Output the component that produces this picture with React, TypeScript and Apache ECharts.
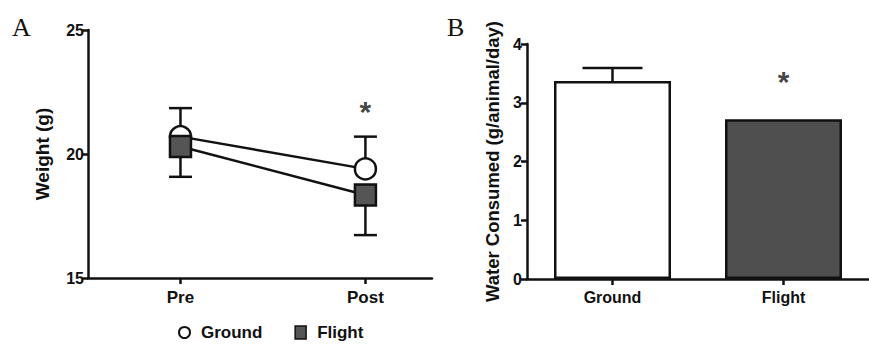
import React, { useEffect, useRef } from "react";
import * as echarts from "echarts";

const timepoints = ["Pre", "Post"];
const groundWeight = [20.7, 19.4];
const groundErr = [1.15, 1.3];
const flightWeight = [20.3, 18.35];
const flightErr = [1.22, 1.62];
const weightSigY = 21.7; // asterisk height at Post

const groups = ["Ground", "Flight"];
const waterMean = [3.37, 2.72];
const waterErr = [0.22, 0];
const waterSigY = 3.37; // asterisk height over Flight

const FONT = "'Liberation Sans', Arial, sans-serif";
const INK = "#111";

export default function App() {
  const ref = useRef<HTMLDivElement>(null);
  useEffect(() => {
    if (!ref.current) return;
    const chart = echarts.init(ref.current, null, { renderer: "svg" });

    const errRender = (dir: number, capHalf: number) => (params: any, api: any) => {
      const x = api.value(0);
      const m = api.value(1);
      const e = api.value(2);
      if (!e) return null;
      const p0 = api.coord([x, m]);
      const p1 = api.coord([x, m + dir * e]);
      return {
        type: "group",
        children: [
          { type: "line", shape: { x1: p0[0], y1: p0[1], x2: p1[0], y2: p1[1] }, style: { stroke: INK, lineWidth: 2.5 } },
          { type: "line", shape: { x1: p1[0] - capHalf, y1: p1[1], x2: p1[0] + capHalf, y2: p1[1] }, style: { stroke: INK, lineWidth: 2.5 } },
        ],
      };
    };

    const axisLineStyle = { lineStyle: { color: INK, width: 2.5 } };
    const tickStyle = { color: INK, width: 2.5 };

    chart.setOption({
      animation: false,
      backgroundColor: "#fff",
      textStyle: { fontFamily: FONT },
      grid: [
        { left: 88, top: 30, width: 344, height: 248 },
        { left: 527, top: 44, width: 352, height: 235 },
      ],
      graphic: [
        { type: "text", left: 12, top: 14, style: { text: "A", font: "26px 'Liberation Serif', 'DejaVu Serif', serif", fill: INK } },
        { type: "text", left: 447, top: 14, style: { text: "B", font: "26px 'Liberation Serif', 'DejaVu Serif', serif", fill: INK } },
      ],
      legend: {
        left: 178,
        top: 324,
        padding: 0,
        itemWidth: 11,
        itemHeight: 13,
        itemGap: 32,
        textStyle: { fontFamily: FONT, fontWeight: "bold", fontSize: 17, lineHeight: 17, color: INK, padding: [0, 0, 0, 6] },
        data: [
          { name: "Ground", icon: "circle", itemStyle: { color: "#fff", borderColor: INK, borderWidth: 2 } },
          { name: "Flight", icon: "rect", itemStyle: { color: "#555", borderColor: INK, borderWidth: 1.5 } },
        ],
      },
      xAxis: [
        {
          gridIndex: 0,
          type: "value",
          min: -0.5,
          max: 1.36,
          splitLine: { show: false },
          axisLine: { ...axisLineStyle, onZero: false },
          axisTick: { show: true, length: 6, lineStyle: tickStyle, customValues: [0, 1] },
          axisLabel: {
            customValues: [0, 1],
            formatter: (v: number) => timepoints[Math.round(v)] ?? "",
            fontFamily: FONT, fontWeight: "bold", fontSize: 17, color: INK, margin: 11,
          },
        },
        {
          gridIndex: 1,
          type: "category",
          data: groups,
          axisLine: axisLineStyle,
          axisTick: { show: true, length: 6, alignWithLabel: true, lineStyle: tickStyle },
          axisLabel: { fontFamily: FONT, fontWeight: "bold", fontSize: 16, color: INK, margin: 10 },
        },
      ],
      yAxis: [
        {
          gridIndex: 0,
          type: "value",
          min: 15,
          max: 25,
          interval: 5,
          name: "Weight (g)",
          nameLocation: "middle",
          nameGap: 36,
          nameTextStyle: { fontFamily: FONT, fontWeight: "bold", fontSize: 19, color: INK },
          splitLine: { show: false },
          axisLine: { show: true, onZero: false, ...axisLineStyle },
          axisTick: { show: true, length: 6, lineStyle: tickStyle },
          axisLabel: { fontFamily: FONT, fontWeight: "bold", fontSize: 16, color: INK, margin: 4 },
        },
        {
          gridIndex: 1,
          type: "value",
          min: 0,
          max: 4,
          interval: 1,
          name: "Water Consumed (g/animal/day)",
          nameLocation: "middle",
          nameGap: 25,
          nameTextStyle: { fontFamily: FONT, fontWeight: "bold", fontSize: 18.5, color: INK },
          splitLine: { show: false },
          axisLine: { show: true, onZero: false, ...axisLineStyle },
          axisTick: { show: true, length: 6, lineStyle: tickStyle },
          axisLabel: { fontFamily: FONT, fontWeight: "bold", fontSize: 16, color: INK, margin: 5 },
        },
      ],
      series: [
        {
          type: "custom",
          xAxisIndex: 0,
          yAxisIndex: 0,
          z: 1,
          renderItem: errRender(1, 11.5),
          data: timepoints.map((_, i) => [i, groundWeight[i], groundErr[i]]),
        },
        {
          type: "custom",
          xAxisIndex: 0,
          yAxisIndex: 0,
          z: 1,
          renderItem: errRender(-1, 11.5),
          data: timepoints.map((_, i) => [i, flightWeight[i], flightErr[i]]),
        },
        {
          name: "Ground",
          type: "line",
          xAxisIndex: 0,
          yAxisIndex: 0,
          z: 3,
          symbol: "circle",
          symbolSize: 21,
          lineStyle: { color: INK, width: 2.5 },
          itemStyle: { color: "#fff", borderColor: INK, borderWidth: 2.5 },
          data: timepoints.map((_, i) => [i, groundWeight[i]]),
        },
        {
          name: "Flight",
          type: "line",
          xAxisIndex: 0,
          yAxisIndex: 0,
          z: 4,
          symbol: "rect",
          symbolSize: 21,
          lineStyle: { color: INK, width: 2.5 },
          itemStyle: { color: "#555", borderColor: INK, borderWidth: 2.5 },
          data: timepoints.map((_, i) => [i, flightWeight[i]]),
        },
        {
          type: "scatter",
          xAxisIndex: 0,
          yAxisIndex: 0,
          symbolSize: 0,
          silent: true,
          label: { show: true, position: "inside", formatter: "*", fontFamily: FONT, fontWeight: "bold", fontSize: 30, color: INK },
          data: [[1, weightSigY]],
        },
        {
          type: "bar",
          xAxisIndex: 1,
          yAxisIndex: 1,
          barWidth: 117,
          z: 2,
          data: waterMean.map((v, i) => ({
            value: v,
            itemStyle: { color: i === 0 ? "#fff" : "#4f4f4f", borderColor: INK, borderWidth: 2.5 },
          })),
        },
        {
          type: "custom",
          xAxisIndex: 1,
          yAxisIndex: 1,
          z: 1,
          renderItem: errRender(1, 30),
          data: groups.map((_, i) => [i, waterMean[i], waterErr[i]]),
        },
        {
          type: "scatter",
          xAxisIndex: 1,
          yAxisIndex: 1,
          symbolSize: 0,
          silent: true,
          label: { show: true, position: "inside", formatter: "*", fontFamily: FONT, fontWeight: "bold", fontSize: 30, color: INK },
          data: [[1, waterSigY]],
        },
      ],
    });
    return () => chart.dispose();
  }, []);
  return <div ref={ref} style={{ position: "fixed", left: 0, top: 0, width: 869, height: 344 }} />;
}
